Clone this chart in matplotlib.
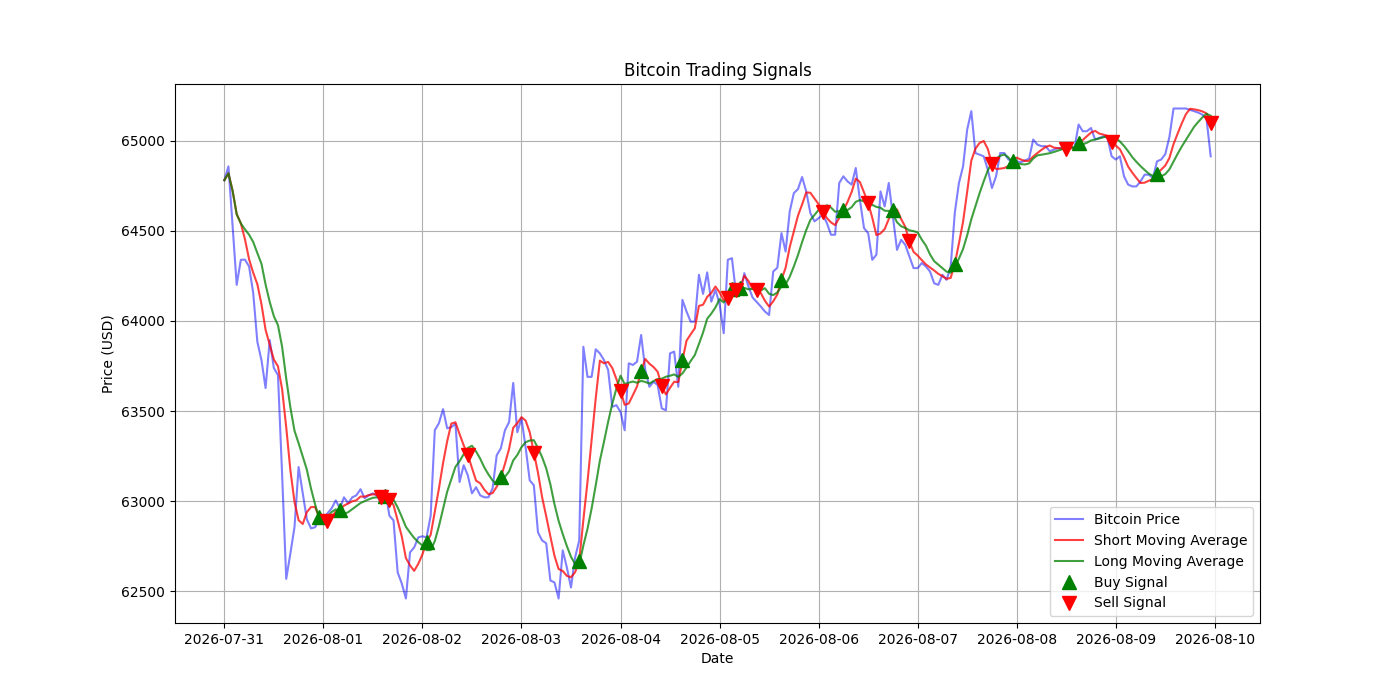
import numpy as np
import pandas as pd
import matplotlib
matplotlib.use("Agg")
import matplotlib.pyplot as plt

# hourly closing prices
price = [
    64780, 64857, 64530, 64200, 64339, 64340, 64302, 64155, 63885, 63783,
    63628, 63894, 63739, 63700, 63150, 62570, 62710, 62856, 63190, 63044,
    62900, 62850, 62856, 62905, 62911, 62933, 62961, 63005, 62961, 63022,
    62989, 63022, 63033, 63067, 63017, 63033, 63044, 63030, 62990, 63060,
    62920, 62894, 62606, 62544, 62461, 62717, 62744, 62800, 62806, 62800,
    62920, 63394, 63433, 63511, 63405, 63411, 63430, 63107, 63200, 63144,
    63044, 63078, 63033, 63022, 63022, 63072, 63255, 63294, 63394, 63439,
    63656, 63383, 63461, 63300, 63116, 63089, 62828, 62783, 62767, 62561,
    62550, 62461, 62728, 62633, 62522, 62689, 62783, 63857, 63690, 63690,
    63843, 63820, 63783, 63728, 63524, 63533, 63496, 63394, 63765, 63756,
    63774, 63922, 63728, 63635, 63663, 63644, 63515, 63505, 63820, 63830,
    63635, 64117, 64052, 63996, 63996, 64256, 64150, 64269, 64107, 64172,
    64095, 63932, 64339, 64348, 64150, 64154, 64265, 64191, 64130, 64105,
    64080, 64052, 64033, 64274, 64295, 64487, 64385, 64607, 64709, 64731,
    64798, 64718, 64598, 64552, 64570, 64589, 64543, 64478, 64478, 64765,
    64802, 64774, 64756, 64848, 64672, 64515, 64487, 64339, 64367, 64718,
    64635, 64765, 64580, 64394, 64450, 64422, 64357, 64293, 64293, 64321,
    64302, 64274, 64209, 64200, 64256, 64228, 64300, 64600, 64765, 64857,
    65061, 65163, 64931, 64922, 64913, 64839, 64737, 64802, 64931, 64931,
    64895, 64885, 64885, 64880, 64890, 64900, 65006, 64978, 64969, 64969,
    64941, 64950, 64959, 64959, 64950, 64967, 64960, 65089, 65052, 65052,
    65070, 65006, 65015, 65024, 65015, 64913, 64895, 64913, 64802, 64756,
    64746, 64746, 64774, 64811, 64811, 64793, 64885, 64895, 64925, 65020,
    65178, 65178, 65178, 65178, 65170, 65163, 65155, 65144, 65120, 64913,
]
start_date = "2026-07-31"
short_window = 5
long_window = 10

dates = pd.date_range(start_date, periods=len(price), freq="h")
df = pd.DataFrame({"price": price}, index=dates)
df["short_mavg"] = df["price"].rolling(window=short_window, min_periods=1).mean()
df["long_mavg"] = df["price"].rolling(window=long_window, min_periods=1).mean()

df["signal"] = 0.0
df.loc[df.index[short_window:], "signal"] = np.where(
    df["short_mavg"].iloc[short_window:] > df["long_mavg"].iloc[short_window:], 1.0, 0.0)
df["positions"] = df["signal"].diff()

fig = plt.figure(figsize=(14, 7))
plt.plot(df.index, df["price"], label="Bitcoin Price", color="blue", alpha=0.5)
plt.plot(df.index, df["short_mavg"], label="Short Moving Average", color="red", alpha=0.75)
plt.plot(df.index, df["long_mavg"], label="Long Moving Average", color="green", alpha=0.75)

buys = df[df["positions"] == 1.0]
sells = df[df["positions"] == -1.0]
plt.plot(buys.index, buys["short_mavg"], "^", markersize=10, color="g", label="Buy Signal")
plt.plot(sells.index, sells["short_mavg"], "v", markersize=10, color="r", label="Sell Signal")

plt.title("Bitcoin Trading Signals")
plt.xlabel("Date")
plt.ylabel("Price (USD)")
plt.legend(loc="lower right")
plt.grid(True)
plt.savefig("out.png")
